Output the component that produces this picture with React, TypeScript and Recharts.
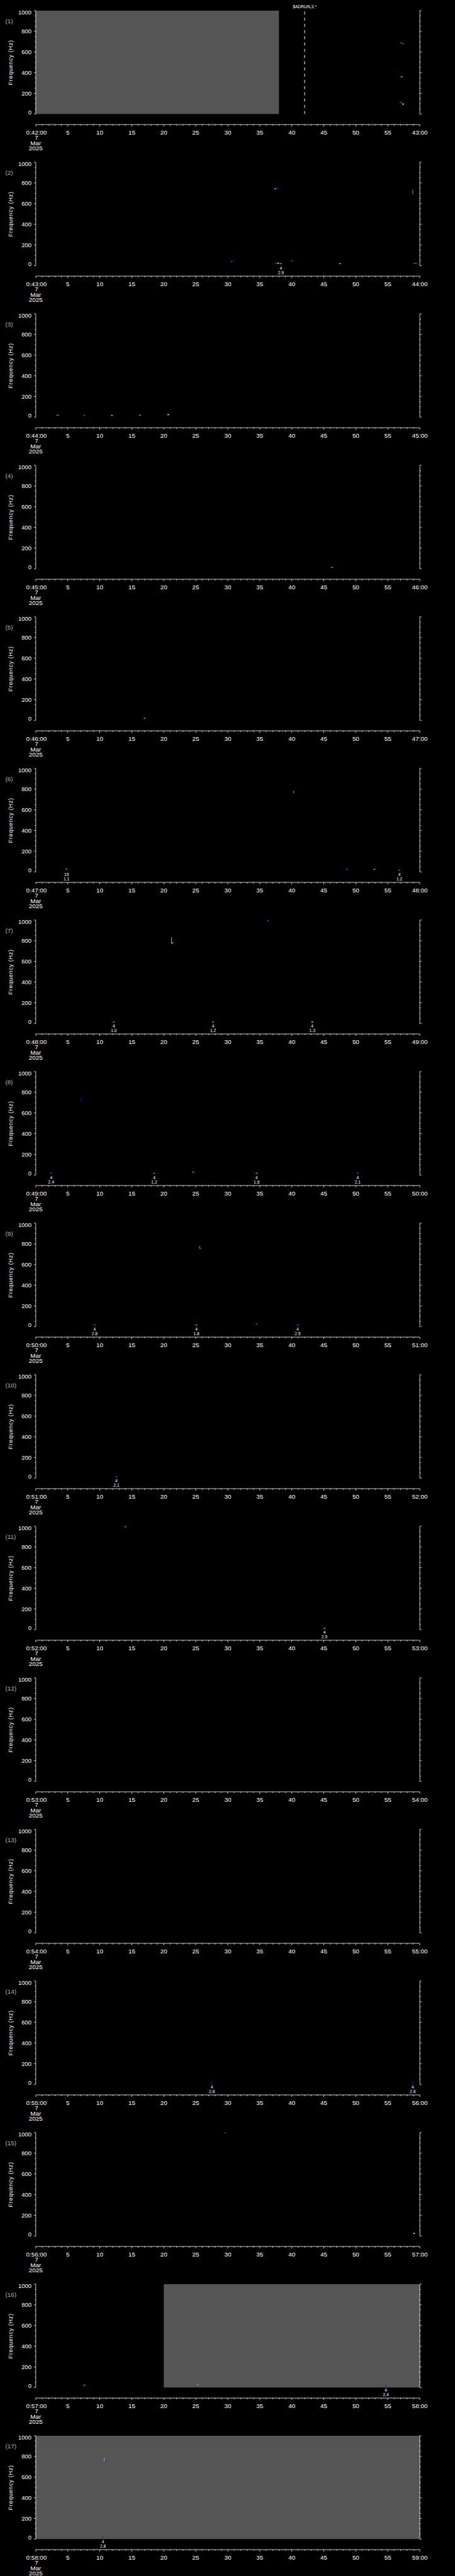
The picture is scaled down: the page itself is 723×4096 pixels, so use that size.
import {
  ComposedChart,
  Scatter,
  XAxis,
  YAxis,
  ReferenceArea,
  ReferenceLine,
  Customized,
} from "recharts";

// scale from the 1024px wide original down to the 723px window
const S = 723 / 1024;
const W = 723;
const PANEL_H = 341.29 * S;

// start minute of each one-minute panel (0:MM:00, 7 Mar 2025)
const START_MINUTES = [42, 43, 44, 45, 46, 47, 48, 49, 50, 51, 52, 53, 54, 55, 56, 57, 58];

// frequency ticks: labelled every 200 Hz, minor every 50 Hz
const FREQ_LABELS = [0, 200, 400, 600, 800, 1000];
const FREQ_MINOR = [50, 100, 150, 250, 300, 350, 450, 500, 550, 650, 700, 750, 850, 900, 950];

// time ticks (seconds into the minute): labelled every 5 s, minor every 1 s
const SEC_LABELS = [0, 5, 10, 15, 20, 25, 30, 35, 40, 45, 50, 55, 60];
const SEC_MINOR = [
  1, 2, 3, 4, 6, 7, 8, 9, 11, 12, 13, 14, 16, 17, 18, 19, 21, 22, 23, 24, 26, 27, 28, 29,
  31, 32, 33, 34, 36, 37, 38, 39, 41, 42, 43, 44, 46, 47, 48, 49, 51, 52, 53, 54, 56, 57, 58, 59,
];

// power level colour table
const PALETTE = ["#0030e0", "#0070ff", "#00d0ff", "#40ffa0", "#ffff00", "#ffa000", "#ff2020"];

// data gaps: [panel, fromSec, toSec]
const GAPS: [number, number, number][] = [
  [1, 0, 38],
  [16, 20, 60],
  [17, 0, 60],
];

// spectral dots: [panel, sec, Hz, level]
const DOTS: [number, number, number, number][] = [
  [1, 57.1, 688, 6], [1, 57.4, 680, 1], [1, 57.0, 362, 0], [1, 57.2, 360, 2],
  [1, 57.0, 113, 6], [1, 57.2, 105, 0], [1, 57.4, 96, 4],
  [2, 30.6, 40, 1], [2, 37.4, 742, 3], [2, 37.7, 748, 0], [2, 37.6, 23, 6],
  [2, 37.9, 23, 4], [2, 38.3, 19, 2], [2, 40.0, 44, 1], [2, 47.5, 19, 3],
  [2, 59.1, 23, 1], [2, 59.4, 23, 6],
  [3, 3.3, 19, 6], [3, 3.5, 19, 1], [3, 7.6, 17, 1], [3, 11.9, 17, 3], [3, 16.3, 19, 2], [3, 20.7, 24, 4],
  [4, 46.3, 13, 2],
  [5, 17.0, 19, 2],
  [6, 4.8, 26, 2], [6, 48.6, 24, 1], [6, 52.9, 24, 2], [6, 56.8, 17, 1],
  [7, 12.2, 14, 2], [7, 27.7, 14, 2], [7, 43.2, 14, 4], [7, 21.3, 778, 4], [7, 36.3, 993, 1],
  [8, 2.4, 17, 1], [8, 18.5, 17, 2], [8, 24.6, 28, 2], [8, 34.5, 17, 2], [8, 50.3, 17, 1],
  [9, 9.2, 15, 1], [9, 25.1, 15, 2], [9, 25.7, 756, 6], [9, 34.5, 26, 1], [9, 40.9, 15, 1],
  [10, 12.6, 15, 1],
  [11, 14.0, 996, 2], [11, 45.1, 13, 2],
  [14, 27.5, 15, 0], [14, 58.9, 15, 0],
  [15, 29.6, 998, 1], [15, 59.1, 24, 4],
  [16, 7.6, 23, 2], [16, 25.3, 27, 2], [16, 54.7, 18, 0],
  [17, 10.9, 752, 0], [17, 10.5, 18, 0],
];

// short vertical streaks: [panel, sec, fromHz, toHz, level]
const STREAKS: [number, number, number, number, number][] = [
  [2, 37.8, 735, 758, 0],
  [2, 58.9, 690, 735, 5],
  [6, 40.3, 763, 782, 4],
  [7, 21.2, 777, 835, 3],
  [8, 7.1, 710, 753, 0],
  [9, 25.6, 756, 779, 3],
  [17, 10.7, 750, 789, 3],
];

// event annotations: [panel, sec, code, value]
const EVENTS: [number, number, string, string][] = [
  [2, 38.3, "4", "2.9"],
  [6, 4.8, "15", "1.1"], [6, 56.8, "4", "1.2"],
  [7, 12.2, "4", "1.0"], [7, 27.7, "4", "1.2"], [7, 43.2, "4", "1.3"],
  [8, 2.4, "4", "2.4"], [8, 18.5, "4", "1.2"], [8, 34.5, "4", "1.8"], [8, 50.3, "4", "2.1"],
  [9, 9.2, "4", "2.8"], [9, 25.1, "4", "1.8"], [9, 40.9, "4", "2.5"],
  [10, 12.6, "4", "2.1"],
  [11, 45.1, "4", "2.5"],
  [14, 27.5, "4", "2.8"], [14, 58.9, "4", "2.8"],
  [16, 54.7, "4", "2.4"],
  [17, 10.5, "4", "2.8"],
];

// command marker: [panel, sec, text]
const MARKERS: [number, number, string][] = [[1, 42, "$ADRUN,3,*"]];

const FONT = "'Liberation Sans', Arial, sans-serif";
const Y_MIN = -101.8; // the time axis sits below 0 Hz
const pad2 = (n: number) => String(n).padStart(2, "0");

const FreqTick = ({ x, y, payload, side }: any) => {
  const v = payload.value;
  const major = v % 200 === 0;
  const len = (major ? 4 : 2.2) * S;
  const dir = side === "left" ? -1 : 1;
  const dy = v === 1000 ? 3.5 * S : v === 0 ? -4 * S : 0;
  return (
    <g>
      <line x1={x} y1={y} x2={x + dir * len} y2={y} stroke="#fff" strokeWidth={0.8} />
      {side === "left" && major && (
        <text
          x={x - 9.5 * S}
          y={y + dy + 4.4 * S}
          textAnchor="end"
          fill="#fff"
          fontSize={13.5 * S}
          fontFamily={FONT}
        >
          {v}
        </text>
      )}
    </g>
  );
};

const TimeTick = ({ x, y, payload, minute }: any) => {
  const v = payload.value;
  const major = v % 5 === 0;
  const len = (major ? 4.3 : 2.7) * S;
  const fs = 14 * S;
  let label = major ? String(v) : "";
  if (v === 0) label = `0:${pad2(minute)}:00`;
  if (v === 60) label = `${pad2(minute + 1)}:00`;
  const cx = v === 0 ? x + 1.5 * S : x;
  return (
    <g>
      <line x1={x} y1={y} x2={x} y2={y + len} stroke="#fff" strokeWidth={0.8} />
      {label && (
        <text x={cx} y={y + 22.6 * S} textAnchor="middle" fill="#fff" fontSize={fs} fontFamily={FONT}>
          {label}
        </text>
      )}
      {v === 0 && (
        <text textAnchor="middle" fill="#fff" fontSize={fs} fontFamily={FONT}>
          <tspan x={cx} y={y + 34.3 * S}>7</tspan>
          <tspan x={x} y={y + 46.3 * S}>Mar</tspan>
          <tspan x={x} y={y + 57.8 * S}>2025</tspan>
        </text>
      )}
    </g>
  );
};

const PanelText = ({ n }: { n: number }) => (
  <g fontFamily={FONT}>
    <text x={12 * S} y={52 * S} fill="#b4b4b4" fontSize={14 * S}>
      ({n})
    </text>
    <text
      transform={`translate(${23.5 * S},${140.8 * S}) rotate(-90)`}
      textAnchor="middle"
      dominantBaseline="central"
      fill="#fff"
      fontSize={13 * S}
      letterSpacing={0.9 * S}
    >
      Frequency (Hz)
    </text>
  </g>
);

const DotShape = (p: any) => (
  <rect x={p.cx - 2 * S} y={p.cy - 1 * S} width={4 * S} height={2 * S} fill={PALETTE[p.payload.lv]} />
);

const EventShape = (p: any) => (
  <g fill="#fff" fontFamily={FONT} fontSize={9.5 * S} textAnchor="middle">
    <text x={p.cx} y={p.cy + 10.1 * S}>{p.payload.code}</text>
    <text x={p.cx} y={p.cy + 19.7 * S}>{p.payload.val}</text>
  </g>
);

const Panel = ({ n }: { n: number }) => {
  const minute = START_MINUTES[n - 1];
  const gaps = GAPS.filter((g) => g[0] === n);
  const dots = DOTS.filter((d) => d[0] === n).map((d) => ({ t: d[1], f: d[2], lv: d[3] }));
  const streaks = STREAKS.filter((s) => s[0] === n);
  const events = EVENTS.filter((e) => e[0] === n).map((e) => ({ t: e[1], f: 0, code: e[2], val: e[3] }));
  const markers = MARKERS.filter((m) => m[0] === n);
  const freqTicks = [...FREQ_LABELS, ...FREQ_MINOR].sort((a, b) => a - b);
  const secTicks = [...SEC_LABELS, ...SEC_MINOR].sort((a, b) => a - b);

  return (
    <ComposedChart width={W} height={PANEL_H} margin={{ top: 24 * S, right: 0, bottom: 0, left: 0 }}>
      <XAxis
        dataKey="t"
        type="number"
        domain={[0, 60]}
        allowDataOverflow
        ticks={secTicks}
        interval={0}
        tickSize={0}
        tickMargin={0}
        tickLine={false}
        axisLine={{ stroke: "#fff", strokeWidth: 0.8 }}
        height={PANEL_H - 280.5 * S}
        tick={(p: any) => <TimeTick {...p} minute={minute} />}
      />
      <YAxis
        dataKey="f"
        type="number"
        domain={[Y_MIN, 1000]}
        allowDataOverflow
        ticks={freqTicks}
        interval={0}
        tickSize={0}
        tickMargin={0}
        tickLine={false}
        axisLine={false}
        width={80.5 * S}
        tick={(p: any) => <FreqTick {...p} side="left" />}
      />
      <YAxis
        yAxisId="r"
        orientation="right"
        dataKey="f"
        type="number"
        domain={[Y_MIN, 1000]}
        allowDataOverflow
        ticks={freqTicks}
        interval={0}
        tickSize={0}
        tickMargin={0}
        tickLine={false}
        axisLine={false}
        width={W - 944.8 * S}
        tick={(p: any) => <FreqTick {...p} side="right" />}
      />
      {gaps.map((g, i) => (
        <ReferenceArea key={`gap-${i}`} x1={g[1]} x2={g[2]} y1={0} y2={1000} fill="#555555" fillOpacity={1} stroke="none" ifOverflow="visible" />
      ))}
      <ReferenceLine segment={[{ x: 0, y: 0 }, { x: 0, y: 1000 }]} stroke="#fff" strokeWidth={0.8} ifOverflow="visible" />
      <ReferenceLine segment={[{ x: 60, y: 0 }, { x: 60, y: 1000 }]} stroke="#fff" strokeWidth={0.8} ifOverflow="visible" />
      {markers.map((m, i) => (
        <ReferenceLine
          key={`mk-${i}`}
          segment={[{ x: m[1], y: 0 }, { x: m[1], y: 1000 }]}
          stroke="#fff"
          strokeWidth={1}
          strokeDasharray={`${4.7} ${5.2}`}
          ifOverflow="visible"
          label={{ value: m[2], position: "top", offset: 3.5, fill: "#fff", fontSize: 9.5 * S, fontFamily: FONT }}
        />
      ))}
      {streaks.map((s, i) => (
        <ReferenceLine
          key={`st-${i}`}
          segment={[{ x: s[1], y: s[2] }, { x: s[1], y: s[3] }]}
          stroke={PALETTE[s[4]]}
          strokeWidth={1.2 * S}
          ifOverflow="visible"
        />
      ))}
      <Scatter data={dots} shape={DotShape} isAnimationActive={false} />
      <Scatter data={events} shape={EventShape} isAnimationActive={false} />
      <Customized component={<PanelText n={n} />} />
    </ComposedChart>
  );
};

export default function App() {
  return (
    <div style={{ width: W, background: "#000", position: "absolute", left: 0, top: 0 }}>
      <style>{"body{margin:0;background:#000}"}</style>
      {START_MINUTES.map((_, i) => (
        <Panel key={i} n={i + 1} />
      ))}
    </div>
  );
}
